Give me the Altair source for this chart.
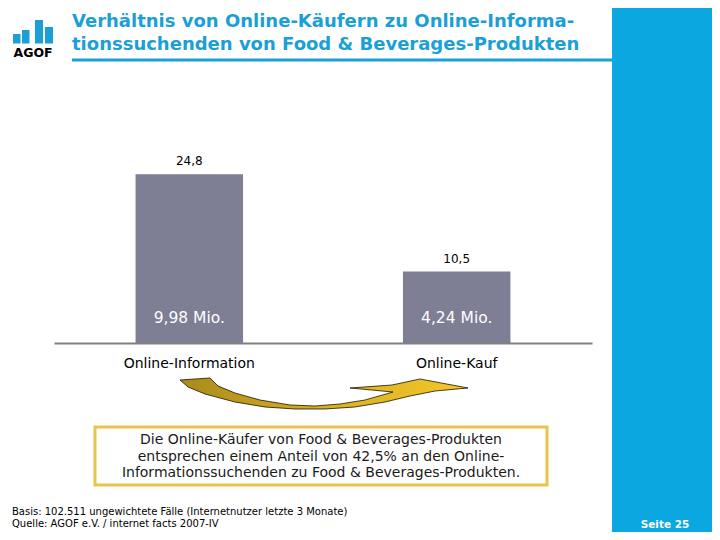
import altair as alt
import pandas as pd

# ---------------- data ----------------
categories = ["Online-Information", "Online-Kauf"]
values = [24.8, 10.5]
value_labels = ["24,8", "10,5"]
inner_labels = ["9,98 Mio.", "4,24 Mio."]

title_lines = ["Verhältnis von Online-Käufern zu Online-Informa-",
               "tionssuchenden von Food & Beverages-Produkten"]
box_lines = ["Die Online-Käufer von Food & Beverages-Produkten",
             "entsprechen einem Anteil von 42,5% an den Online-",
             "Informationssuchenden zu Food & Beverages-Produkten."]
footer_lines = ["Basis: 102.511 ungewichtete Fälle (Internetnutzer letzte 3 Monate)",
                "Quelle: AGOF e.V. / internet facts 2007-IV"]
page_label = "Seite 25"
logo_text = "AGOF"

# ---------------- decoration geometry (page pixels) ----------------
OX, OY = 54, 173      # page position of the plot origin
W, H = 538, 170       # plot area
SVG_W, SVG_H = 704, 524


def px(x):
    return x - OX


def py(y):
    return y - OY


logo_bars = [(13, 20.5, 34), (22, 29.5, 30), (35, 43, 20), (45, 53, 27)]
logo_bottom = 43.5

arrow_outline = [
    (180, 380), (210, 378), (218, 386), (235, 393), (260, 400), (290, 405),
    (315, 406), (340, 404), (365, 400), (393, 392), (350, 388), (392, 385),
    (420, 379), (468, 388), (435, 391), (410, 396), (385, 402), (355, 407),
    (325, 409), (295, 409), (265, 407), (235, 402), (205, 394), (188, 387),
]
ACX, ACY, AHALF = 324, 394, 146
arrow_path = "M" + " L".join(
    f"{(x - ACX) / AHALF:.4f},{(y - ACY) / AHALF:.4f}" for x, y in arrow_outline
) + " Z"

BLUE = "#0aa7e1"
TITLE_BLUE = "#1a9fd6"
BAR = "#7e7e94"
FONT = "DejaVu Sans"

one = pd.DataFrame({"a": [0]})
df = pd.DataFrame({"cat": categories, "val": values,
                   "vlab": value_labels, "ilab": inner_labels})

xenc = alt.X("cat:N", sort=categories, title=None,
             scale=alt.Scale(paddingInner=0.598, paddingOuter=0.305),
             axis=alt.Axis(ticks=False, domain=True, domainColor="#808080",
                           domainWidth=2, labelAngle=0, labelFontSize=14,
                           labelFont=FONT, labelColor="#000000",
                           labelPadding=13, grid=False))
yenc = alt.Y("val:Q", scale=alt.Scale(domain=[0, 25], nice=False), axis=None)

bars = alt.Chart(df).mark_bar(color=BAR).encode(x=xenc, y=yenc)
vlabels = alt.Chart(df).mark_text(font=FONT, fontSize=12, color="#000000",
                                  baseline="middle", dy=-13).encode(
    x=alt.X("cat:N", sort=categories), y="val:Q", text="vlab:N")
ilabels = alt.Chart(df).mark_text(font=FONT, fontSize=15.5, color="#ffffff",
                                  baseline="middle").encode(
    x=alt.X("cat:N", sort=categories), y=alt.value(py(318)), text="ilab:N")

layers = []

# blue band on the right
layers.append(alt.Chart(one).mark_rect(color=BLUE).encode(
    x=alt.value(px(612)), x2=alt.value(px(730)),
    y=alt.value(py(-10)), y2=alt.value(py(550))))

# logo
for x1, x2, yt in logo_bars:
    layers.append(alt.Chart(one).mark_rect(color=TITLE_BLUE).encode(
        x=alt.value(px(x1)), x2=alt.value(px(x2)),
        y=alt.value(py(yt)), y2=alt.value(py(logo_bottom))))
layers.append(alt.Chart(one).mark_text(text=logo_text, font=FONT, fontWeight="bold",
                                       fontSize=12.5, color="#000000",
                                       align="center", baseline="middle").encode(
    x=alt.value(px(33)), y=alt.value(py(53))))

# title + underline
layers.append(alt.Chart(one).mark_text(text=title_lines, font=FONT, fontWeight="bold",
                                       fontSize=18, color=TITLE_BLUE, lineHeight=22.5,
                                       align="left", baseline="middle").encode(
    x=alt.value(px(72)), y=alt.value(py(22))))
layers.append(alt.Chart(one).mark_rule(color=TITLE_BLUE, strokeWidth=3).encode(
    x=alt.value(px(72)), x2=alt.value(px(612)), y=alt.value(py(60))))

# arrow
grad = alt.Gradient(gradient="linear",
                    stops=[alt.GradientStop(color="#a88a1c", offset=0),
                           alt.GradientStop(color="#d8b024", offset=0.5),
                           alt.GradientStop(color="#f4c62a", offset=1)],
                    x1=0, x2=1, y1=0, y2=0)
layers.append(alt.Chart(one).mark_point(shape=arrow_path, size=(2 * AHALF) ** 2,
                                        filled=True, fill=grad, stroke="#1a1400",
                                        strokeWidth=0.8, opacity=1).encode(
    x=alt.value(px(ACX)), y=alt.value(py(ACY))))

# text box
layers.append(alt.Chart(one).mark_rect(fill="#ffffff", stroke="#e8c54a",
                                       strokeWidth=3).encode(
    x=alt.value(px(95)), x2=alt.value(px(547)),
    y=alt.value(py(427)), y2=alt.value(py(485))))
layers.append(alt.Chart(one).mark_text(text=box_lines, font=FONT, fontSize=14,
                                       color="#1a1a1a", lineHeight=16.5,
                                       align="center", baseline="middle").encode(
    x=alt.value(px(321)), y=alt.value(py(440))))

# footer
layers.append(alt.Chart(one).mark_text(text=footer_lines, font=FONT, fontSize=10,
                                       color="#000000", lineHeight=12,
                                       align="left", baseline="middle").encode(
    x=alt.value(px(12)), y=alt.value(py(512))))
layers.append(alt.Chart(one).mark_text(text=page_label, font=FONT, fontWeight="bold",
                                       fontSize=10.5, color="#ffffff",
                                       align="center", baseline="middle").encode(
    x=alt.value(px(665)), y=alt.value(py(525))))

chart = alt.layer(*layers, bars, vlabels, ilabels).properties(
    width=W, height=H,
    padding={"left": OX - 8, "top": OY - 8,
             "right": SVG_W - (OX - 8) - W, "bottom": SVG_H - (OY - 8) - H},
    autosize=alt.AutoSizeParams(type="none"),
    background="#ffffff",
).configure_view(stroke=None)

chart.save("out.html", embed_options={"renderer": "svg", "actions": False})
